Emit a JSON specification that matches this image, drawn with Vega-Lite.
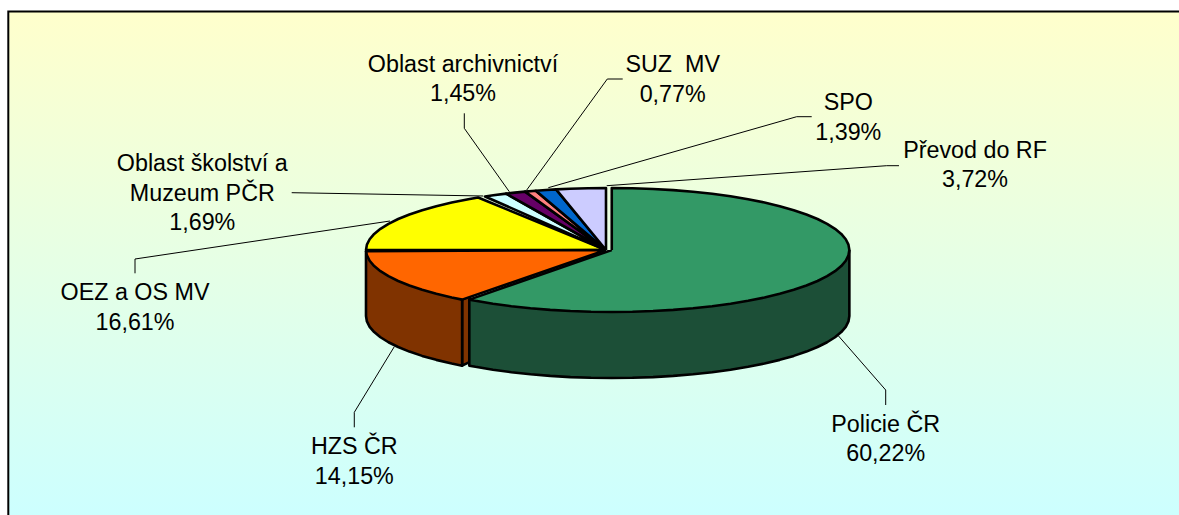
{"$schema":"https://vega.github.io/schema/vega-lite/v6.json","width":1179,"height":515,"padding":0,"autosize":{"type":"none"},"background":"white","config":{"view":{"stroke":null},"axis":{"disable":true}},
"datasets":{
"frame":[{"x":-249.04,"x2":260,"y":384.68,"y2":-435.48}],
"shapes":[
{"part":"oez","i":0,"x":0,"y":0},{"part":"oez","i":1,"x":-100,"y":0},{"part":"oez","i":2,"x":-99.62,"y":8.72},{"part":"oez","i":3,"x":-98.48,"y":17.36},{"part":"oez","i":4,"x":-96.59,"y":25.88},{"part":"oez","i":5,"x":-93.97,"y":34.2},{"part":"oez","i":6,"x":-90.63,"y":42.26},{"part":"oez","i":7,"x":-86.6,"y":50},{"part":"oez","i":8,"x":-81.92,"y":57.36},{"part":"oez","i":9,"x":-76.6,"y":64.28},{"part":"oez","i":10,"x":-70.71,"y":70.71},{"part":"oez","i":11,"x":-64.28,"y":76.6},{"part":"oez","i":12,"x":-57.36,"y":81.92},{"part":"oez","i":13,"x":-53.3,"y":84.6},{"part":"oez","i":14,"x":0,"y":0},
{"part":"skol","i":0,"x":0,"y":0},{"part":"skol","i":1,"x":-50.4,"y":86.34},{"part":"skol","i":2,"x":-46.95,"y":88.29},{"part":"skol","i":3,"x":-41.6,"y":90.9},{"part":"skol","i":4,"x":0,"y":0},
{"part":"arch","i":0,"x":0,"y":0},{"part":"arch","i":1,"x":-41.6,"y":90.9},{"part":"arch","i":2,"x":-38,"y":92.5},{"part":"arch","i":3,"x":-33.7,"y":94.15},{"part":"arch","i":4,"x":0,"y":0},
{"part":"suz","i":0,"x":0,"y":0},{"part":"suz","i":1,"x":-33.7,"y":94.15},{"part":"suz","i":2,"x":-29.24,"y":95.63},{"part":"suz","i":3,"x":0,"y":0},
{"part":"spo","i":0,"x":0,"y":0},{"part":"spo","i":1,"x":-29.24,"y":95.63},{"part":"spo","i":2,"x":-25,"y":96.8},{"part":"spo","i":3,"x":-20.79,"y":97.81},{"part":"spo","i":4,"x":0,"y":0},
{"part":"prevod","i":0,"x":0,"y":0},{"part":"prevod","i":1,"x":-20.79,"y":97.81},{"part":"prevod","i":2,"x":-15,"y":98.87},{"part":"prevod","i":3,"x":-7.5,"y":99.72},{"part":"prevod","i":4,"x":0,"y":100},{"part":"prevod","i":5,"x":0,"y":0},
{"part":"hzsCut","i":0,"x":-59.95,"y":-80.04},{"part":"hzsCut","i":1,"x":-56.7,"y":-74},{"part":"hzsCut","i":2,"x":-56.7,"y":-180.5},{"part":"hzsCut","i":3,"x":-59.95,"y":-186.54},{"part":"hzsCut","i":4,"x":-59.95,"y":-80.04},
{"part":"hzsSide","i":0,"x":-100,"y":-1.75},{"part":"hzsSide","i":1,"x":-100,"y":-106.5},{"part":"hzsSide","i":2,"x":-99.62,"y":-115.22},{"part":"hzsSide","i":3,"x":-98.48,"y":-123.86},{"part":"hzsSide","i":4,"x":-96.59,"y":-132.38},{"part":"hzsSide","i":5,"x":-93.97,"y":-140.7},{"part":"hzsSide","i":6,"x":-90.63,"y":-148.76},{"part":"hzsSide","i":7,"x":-86.6,"y":-156.5},{"part":"hzsSide","i":8,"x":-81.92,"y":-163.86},{"part":"hzsSide","i":9,"x":-76.6,"y":-170.78},{"part":"hzsSide","i":10,"x":-70.71,"y":-177.21},{"part":"hzsSide","i":11,"x":-64.28,"y":-183.1},{"part":"hzsSide","i":12,"x":-59.95,"y":-186.54},{"part":"hzsSide","i":13,"x":-59.95,"y":-80.04},{"part":"hzsSide","i":14,"x":-100,"y":-1.75},
{"part":"hzs","i":0,"x":0,"y":0},{"part":"hzs","i":1,"x":-59.95,"y":-80.04},{"part":"hzs","i":2,"x":-64.28,"y":-76.6},{"part":"hzs","i":3,"x":-70.71,"y":-70.71},{"part":"hzs","i":4,"x":-76.6,"y":-64.28},{"part":"hzs","i":5,"x":-81.92,"y":-57.36},{"part":"hzs","i":6,"x":-86.6,"y":-50},{"part":"hzs","i":7,"x":-90.63,"y":-42.26},{"part":"hzs","i":8,"x":-93.97,"y":-34.2},{"part":"hzs","i":9,"x":-96.59,"y":-25.88},{"part":"hzs","i":10,"x":-98.48,"y":-17.36},{"part":"hzs","i":11,"x":-99.62,"y":-8.72},{"part":"hzs","i":12,"x":-99.98,"y":-1.75},{"part":"hzs","i":13,"x":0,"y":0},
{"part":"policieSide","i":0,"x":101.4,"y":0},{"part":"policieSide","i":1,"x":101.4,"y":-106.5},{"part":"policieSide","i":2,"x":101.02,"y":-115.22},{"part":"policieSide","i":3,"x":99.9,"y":-123.86},{"part":"policieSide","i":4,"x":98.02,"y":-132.38},{"part":"policieSide","i":5,"x":95.43,"y":-140.7},{"part":"policieSide","i":6,"x":92.12,"y":-148.76},{"part":"policieSide","i":7,"x":88.13,"y":-156.5},{"part":"policieSide","i":8,"x":83.5,"y":-163.86},{"part":"policieSide","i":9,"x":78.23,"y":-170.78},{"part":"policieSide","i":10,"x":72.4,"y":-177.21},{"part":"policieSide","i":11,"x":66.04,"y":-183.1},{"part":"policieSide","i":12,"x":59.19,"y":-188.42},{"part":"policieSide","i":13,"x":51.9,"y":-193.1},{"part":"policieSide","i":14,"x":44.24,"y":-197.13},{"part":"policieSide","i":15,"x":36.26,"y":-200.47},{"part":"policieSide","i":16,"x":28.02,"y":-203.09},{"part":"policieSide","i":17,"x":19.59,"y":-204.98},{"part":"policieSide","i":18,"x":11.03,"y":-206.12},{"part":"policieSide","i":19,"x":2.4,"y":-206.5},{"part":"policieSide","i":20,"x":-6.23,"y":-206.12},{"part":"policieSide","i":21,"x":-14.79,"y":-204.98},{"part":"policieSide","i":22,"x":-23.22,"y":-203.09},{"part":"policieSide","i":23,"x":-31.46,"y":-200.47},{"part":"policieSide","i":24,"x":-39.44,"y":-197.13},{"part":"policieSide","i":25,"x":-47.1,"y":-193.1},{"part":"policieSide","i":26,"x":-54.39,"y":-188.42},{"part":"policieSide","i":27,"x":-56.95,"y":-186.54},{"part":"policieSide","i":28,"x":-56.95,"y":-80.04},{"part":"policieSide","i":29,"x":101.4,"y":0},
{"part":"policie","i":0,"x":2.4,"y":0},{"part":"policie","i":1,"x":2.4,"y":100},{"part":"policie","i":2,"x":11.03,"y":99.62},{"part":"policie","i":3,"x":19.59,"y":98.48},{"part":"policie","i":4,"x":28.02,"y":96.59},{"part":"policie","i":5,"x":36.26,"y":93.97},{"part":"policie","i":6,"x":44.24,"y":90.63},{"part":"policie","i":7,"x":51.9,"y":86.6},{"part":"policie","i":8,"x":59.19,"y":81.92},{"part":"policie","i":9,"x":66.04,"y":76.6},{"part":"policie","i":10,"x":72.4,"y":70.71},{"part":"policie","i":11,"x":78.23,"y":64.28},{"part":"policie","i":12,"x":83.5,"y":57.36},{"part":"policie","i":13,"x":88.13,"y":50},{"part":"policie","i":14,"x":92.12,"y":42.26},{"part":"policie","i":15,"x":95.43,"y":34.2},{"part":"policie","i":16,"x":98.02,"y":25.88},{"part":"policie","i":17,"x":99.9,"y":17.36},{"part":"policie","i":18,"x":101.02,"y":8.72},{"part":"policie","i":19,"x":101.4,"y":0},{"part":"policie","i":20,"x":101.02,"y":-8.72},{"part":"policie","i":21,"x":99.9,"y":-17.36},{"part":"policie","i":22,"x":98.02,"y":-25.88},{"part":"policie","i":23,"x":95.43,"y":-34.2},{"part":"policie","i":24,"x":92.12,"y":-42.26},{"part":"policie","i":25,"x":88.13,"y":-50},{"part":"policie","i":26,"x":83.5,"y":-57.36},{"part":"policie","i":27,"x":78.23,"y":-64.28},{"part":"policie","i":28,"x":72.4,"y":-70.71},{"part":"policie","i":29,"x":66.04,"y":-76.6},{"part":"policie","i":30,"x":59.19,"y":-81.92},{"part":"policie","i":31,"x":51.9,"y":-86.6},{"part":"policie","i":32,"x":44.24,"y":-90.63},{"part":"policie","i":33,"x":36.26,"y":-93.97},{"part":"policie","i":34,"x":28.02,"y":-96.59},{"part":"policie","i":35,"x":19.59,"y":-98.48},{"part":"policie","i":36,"x":11.03,"y":-99.62},{"part":"policie","i":37,"x":2.4,"y":-100},{"part":"policie","i":38,"x":-6.23,"y":-99.62},{"part":"policie","i":39,"x":-14.79,"y":-98.48},{"part":"policie","i":40,"x":-23.22,"y":-96.59},{"part":"policie","i":41,"x":-31.46,"y":-93.97},{"part":"policie","i":42,"x":-39.44,"y":-90.63},{"part":"policie","i":43,"x":-47.1,"y":-86.6},{"part":"policie","i":44,"x":-54.39,"y":-81.92},{"part":"policie","i":45,"x":-56.95,"y":-80.04},{"part":"policie","i":46,"x":2.4,"y":0}
],
"leaders":[
{"slice":"arch","i":0,"x":-59.04,"y":220.48},{"slice":"arch","i":1,"x":-59.04,"y":196.29},{"slice":"arch","i":2,"x":-40.29,"y":94.03},
{"slice":"suz","i":0,"x":6.96,"y":275.81},{"slice":"suz","i":1,"x":0.54,"y":275.81},{"slice":"suz","i":2,"x":-33.04,"y":96.77},
{"slice":"spo","i":0,"x":85.71,"y":215},{"slice":"spo","i":1,"x":79.46,"y":215},{"slice":"spo","i":2,"x":-24.04,"y":100.48},
{"slice":"prevod","i":0,"x":122.08,"y":135.97},{"slice":"prevod","i":1,"x":116.96,"y":135.97},{"slice":"prevod","i":2,"x":0.29,"y":103.71},
{"slice":"skol","i":0,"x":-130.96,"y":92.42},{"slice":"skol","i":1,"x":-51.13,"y":87.1},
{"slice":"oez","i":0,"x":-196.25,"y":-37.58},{"slice":"oez","i":1,"x":-196.25,"y":-14.52},{"slice":"oez","i":2,"x":-90,"y":46.77},
{"slice":"hzs","i":0,"x":-104.88,"y":-285.97},{"slice":"hzs","i":1,"x":-104.88,"y":-261.77},{"slice":"hzs","i":2,"x":-88.21,"y":-155.97},
{"slice":"policie","i":0,"x":116.54,"y":-250},{"slice":"policie","i":1,"x":116.54,"y":-225.81},{"slice":"policie","i":2,"x":96.79,"y":-138.23}
],
"labels":[
{"label":"Oblast archivnictví\n1,45%","x":-59.58,"y":287.58},
{"label":"SUZ \u00a0MV\n0,77%","x":27.79,"y":286.61},
{"label":"SPO\n1,39%","x":100.96,"y":225.81},
{"label":"Převod do RF\n3,72%","x":153.75,"y":148.87},
{"label":"Oblast školství a\nMuzeum PČR\n1,69%","x":-168.21,"y":127.42},
{"label":"OEZ a OS MV\n16,61%","x":-196.25,"y":-80.65},
{"label":"HZS ČR\n14,15%","x":-104.88,"y":-329.03},
{"label":"Policie ČR\n60,22%","x":116.54,"y":-293.06}
]},
"encoding":{
"x":{"field":"x","type":"quantitative","scale":{"domain":[-252.5,238.75],"nice":false,"zero":false}},
"y":{"field":"y","type":"quantitative","scale":{"domain":[-427.42,403.23],"nice":false,"zero":false}}},
"layer":[
{"data":{"name":"frame"},"mark":{"type":"rect","clip":true,"stroke":"#000000","strokeWidth":2,"fill":{"gradient":"linear","x1":0,"y1":0,"x2":0,"y2":1,"stops":[{"offset":0,"color":"#FFFFCC"},{"offset":1,"color":"#CCFFFF"}]}},"encoding":{"x2":{"field":"x2"},"y2":{"field":"y2"}}},
{"data":{"name":"leaders"},"mark":{"type":"line","stroke":"#000000","strokeWidth":1},"encoding":{"detail":{"field":"slice"},"order":{"field":"i","type":"quantitative"}}},
{"data":{"name":"shapes"},"mark":{"type":"line","stroke":"#000000","strokeWidth":2.6,"strokeJoin":"round"},"encoding":{"detail":{"field":"part"},"order":{"field":"i","type":"quantitative"},"fill":{"field":"part","type":"nominal","legend":null,"scale":{"domain":["oez","skol","arch","suz","spo","prevod","hzsCut","hzsSide","hzs","policieSide","policie"],"range":["#FFFF00","#CCFFFF","#660066","#FF8080","#0066CC","#CCCCFF","#803300","#803300","#FF6600","#1C4F37","#339966"]}}}},
{"data":{"name":"labels"},"mark":{"type":"text","font":"Liberation Sans","fontSize":23.3,"lineBreak":"\n","lineHeight":29.7,"align":"center","baseline":"alphabetic","color":"#000000"},"encoding":{"text":{"field":"label"}}}
]}
